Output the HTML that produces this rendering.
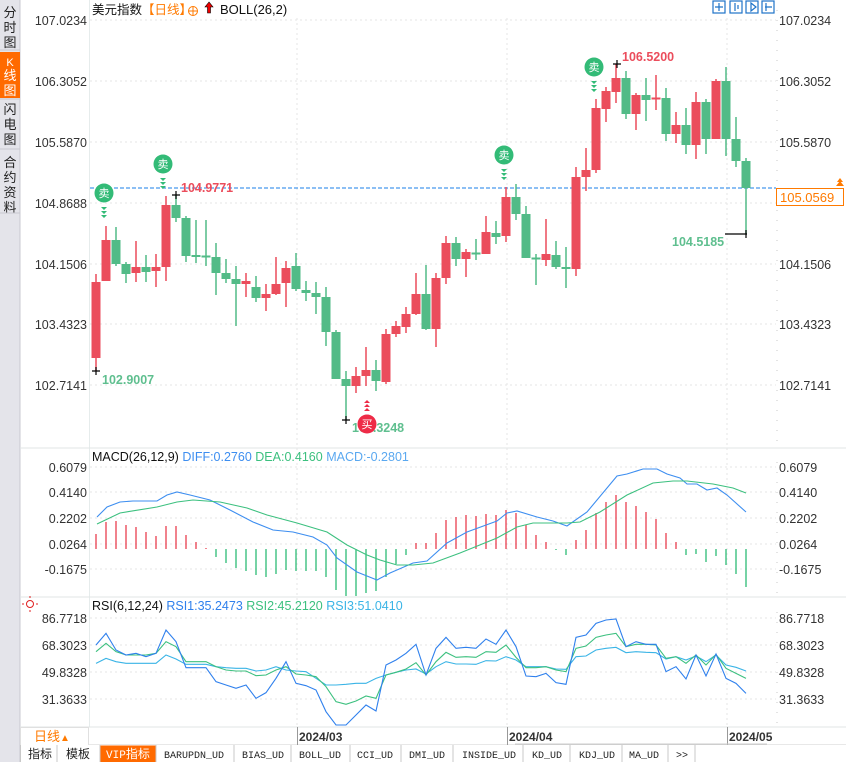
<!DOCTYPE html>
<html><head><meta charset="utf-8"><style>
body{margin:0;width:846px;height:762px;overflow:hidden;background:#fff;font-family:"Liberation Sans","Noto Sans CJK SC",sans-serif;}
svg{position:absolute;left:0;top:0}
</style></head><body>
<svg width="846" height="762" viewBox="0 0 846 762" xmlns="http://www.w3.org/2000/svg" font-family="Liberation Sans, Noto Sans CJK SC, sans-serif">
<rect x="0" y="0" width="20" height="762" fill="#e4e4ea"/>
<line x1="20" y1="0" x2="20" y2="762" stroke="#c8c8d0"/>
<rect x="0" y="52" width="20" height="46" fill="#ff6a00"/>
<g font-size="13" fill="#222" text-anchor="middle">
<text x="10" y="17">分</text><text x="10" y="32">时</text><text x="10" y="47">图</text>
<text x="10" y="66" fill="#fff" font-size="11">K</text><text x="10" y="80" fill="#fff">线</text><text x="10" y="95" fill="#fff">图</text>
<text x="10" y="114">闪</text><text x="10" y="129">电</text><text x="10" y="144">图</text>
<text x="10" y="167">合</text><text x="10" y="182">约</text><text x="10" y="197">资</text><text x="10" y="212">料</text>
</g>
<line x1="0" y1="50" x2="20" y2="50" stroke="#c8c8d0"/><line x1="0" y1="99" x2="20" y2="99" stroke="#c8c8d0"/><line x1="0" y1="149" x2="20" y2="149" stroke="#c8c8d0"/><line x1="0" y1="213" x2="20" y2="213" stroke="#c8c8d0"/>
<line x1="89.5" y1="0" x2="89.5" y2="727" stroke="#e6ecec"/>
<line x1="20" y1="448" x2="846" y2="448" stroke="#e0e6e6"/>
<line x1="20" y1="597" x2="846" y2="597" stroke="#e0e6e6"/>
<line x1="20" y1="727" x2="846" y2="727" stroke="#e0e6e6"/>
<line x1="20" y1="745" x2="846" y2="745" stroke="#d0d0d0"/>
<g stroke="#c8c8c8" stroke-dasharray="1,9"><line x1="777" y1="10" x2="777" y2="445"/><line x1="777" y1="462" x2="777" y2="595"/><line x1="777" y1="612" x2="777" y2="725"/></g>
<g stroke="#e6e6e6" stroke-dasharray="2,3">
<line x1="90" y1="20" x2="776" y2="20"/><line x1="90" y1="81" x2="776" y2="81"/><line x1="90" y1="142" x2="776" y2="142"/><line x1="90" y1="203" x2="776" y2="203"/><line x1="90" y1="264" x2="776" y2="264"/><line x1="90" y1="324" x2="776" y2="324"/><line x1="90" y1="385" x2="776" y2="385"/>
<line x1="90" y1="467" x2="776" y2="467"/><line x1="90" y1="492" x2="776" y2="492"/><line x1="90" y1="518" x2="776" y2="518"/><line x1="90" y1="544" x2="776" y2="544"/><line x1="90" y1="569" x2="776" y2="569"/>
<line x1="90" y1="618" x2="776" y2="618"/><line x1="90" y1="645" x2="776" y2="645"/><line x1="90" y1="672" x2="776" y2="672"/><line x1="90" y1="699" x2="776" y2="699"/>
<line x1="297" y1="18" x2="297" y2="727"/><line x1="507" y1="18" x2="507" y2="727"/><line x1="727" y1="18" x2="727" y2="727"/>
</g>
<g font-size="12.5" fill="#333">
<text x="779" y="25">107.0234</text><text x="779" y="86">106.3052</text><text x="779" y="147">105.5870</text><text x="779" y="269">104.1506</text><text x="779" y="329">103.4323</text><text x="779" y="390">102.7141</text>
<text x="779" y="472">0.6079</text><text x="779" y="497">0.4140</text><text x="779" y="523">0.2202</text><text x="779" y="549">0.0264</text><text x="779" y="574">-0.1675</text>
<text x="779" y="623">86.7718</text><text x="779" y="650">68.3023</text><text x="779" y="677">49.8328</text><text x="779" y="704">31.3633</text>
</g>
<g font-size="12.5" fill="#333" text-anchor="end">
<text x="87" y="25">107.0234</text><text x="87" y="86">106.3052</text><text x="87" y="147">105.5870</text><text x="87" y="208">104.8688</text><text x="87" y="269">104.1506</text><text x="87" y="329">103.4323</text><text x="87" y="390">102.7141</text>
<text x="87" y="472">0.6079</text><text x="87" y="497">0.4140</text><text x="87" y="523">0.2202</text><text x="87" y="549">0.0264</text><text x="87" y="574">-0.1675</text>
<text x="87" y="623">86.7718</text><text x="87" y="650">68.3023</text><text x="87" y="677">49.8328</text><text x="87" y="704">31.3633</text>
</g>
<text x="92" y="14" font-size="12.5" fill="#111">美元指数<tspan fill="#ff7a00">【日线】</tspan></text>
<circle cx="193" cy="11" r="4.5" fill="none" stroke="#ff7a00"/><path d="M188.5 11h9M193 6.5v9" stroke="#ff7a00"/>
<path d="M209 2l-4 5h2.5v6h3v-6h2.5z" fill="#e00" stroke="#000" stroke-width="0.6"/>
<text x="220" y="14" font-size="13" fill="#111">BOLL(26,2)</text>
<g fill="none" stroke="#1e73c8" stroke-width="1.2">
<rect x="713" y="1" width="12" height="12"/><rect x="730" y="1" width="12" height="12"/><rect x="746" y="1" width="12" height="12"/><rect x="762" y="1" width="12" height="12"/>
<path d="M719 3v8M715 7h8M735 3v8M738 5v4M751 3v8l5-4zM765 7h7M766 3v8"/>
</g>
<line x1="90" y1="188" x2="776" y2="188" stroke="#1a7fe8" stroke-dasharray="4,2"/>
<rect x="776.5" y="188.5" width="67" height="17" fill="#fff" stroke="#ff7a00"/>
<text x="780" y="202" font-size="13" fill="#ff7a00">105.0569</text>
<path d="M836 186l4-5 4 5zM837 182l3-4 3 4z" fill="#ff7a00"/>
<g fill="none" stroke="#eb4d5c" stroke-width="1.5"><path d="M96 274V371 M106 226V281 M136 241V282 M156 254V287 M166 196V281 M246 273V297 M266 284V311 M276 257V295 M286 261V307 M356 367V393 M366 347V386 M386 329V384 M396 321V337 M406 307V333 M416 273V315 M436 273V347 M446 236V284 M466 249V277 M486 216V254 M506 187V242 M546 219V266 M576 167V276 M586 148V191 M596 99V173 M606 87V122 M616 64V103 M636 93V130 M656 75V110 M676 112V143 M696 92V159 M716 79V139"/></g>
<path fill="#eb4d5c" d="M91.5 282h9v76h-9z M101.5 240h9v41h-9z M131.5 267h9v6h-9z M151.5 267h9v4h-9z M161.5 205h9v62h-9z M241.5 281h9v3h-9z M261.5 294h9v4h-9z M271.5 284h9v10h-9z M281.5 268h9v15h-9z M351.5 376h9v10h-9z M361.5 370h9v6h-9z M381.5 334h9v48h-9z M391.5 326h9v8h-9z M401.5 314h9v13h-9z M411.5 294h9v20h-9z M431.5 278h9v51h-9z M441.5 243h9v35h-9z M461.5 252h9v7h-9z M481.5 232h9v22h-9z M501.5 197h9v39h-9z M541.5 254h9v6h-9z M571.5 177h9v92h-9z M581.5 170h9v7h-9z M591.5 108h9v62h-9z M601.5 91h9v18h-9z M611.5 78h9v14h-9z M631.5 95h9v19h-9z M651.5 97.5h9v2h-9z M671.5 125h9v9h-9z M691.5 102h9v43h-9z M711.5 81h9v58h-9z"/>
<g fill="none" stroke="#52bb87" stroke-width="1.5"><path d="M116 227V266 M126 262V283 M146 255V282 M176 195V222 M186 216V262 M196 220V263 M206 220V266 M216 243V295 M226 259V283 M236 266V326 M256 276V302 M296 253V291 M306 281V301 M316 282V314 M326 287V346 M336 330V379 M346 371V420 M376 360V391 M426 265V330 M456 237V266 M476 239V260 M496 221V244 M516 184V220 M526 206V258 M536 254V285 M556 241V269 M566 247V288 M626 71V119 M646 78V121 M666 88V141 M686 108V154 M706 99V154 M726 67V156 M736 117V167 M746 158V234"/></g>
<path fill="#52bb87" d="M111.5 240h9v24h-9z M121.5 264h9v10h-9z M141.5 267h9v5h-9z M171.5 205h9v13h-9z M181.5 218h9v38h-9z M191.5 255h9v2h-9z M201.5 255.5h9v2h-9z M211.5 257h9v16h-9z M221.5 273h9v6h-9z M231.5 279h9v5h-9z M251.5 287h9v11h-9z M291.5 266h9v23h-9z M301.5 290h9v3h-9z M311.5 293h9v4h-9z M321.5 297h9v35h-9z M331.5 332h9v47h-9z M341.5 379h9v7h-9z M371.5 370h9v11h-9z M421.5 294h9v35h-9z M451.5 243h9v16h-9z M471.5 252.5h9v2h-9z M491.5 233h9v4h-9z M511.5 197h9v17h-9z M521.5 214h9v44h-9z M531.5 257.5h9v2h-9z M551.5 255h9v12h-9z M561.5 267h9v2h-9z M621.5 78h9v36h-9z M641.5 95h9v5h-9z M661.5 98h9v36h-9z M681.5 125h9v20h-9z M701.5 102h9v37h-9z M721.5 81h9v58h-9z M731.5 139h9v22h-9z M741.5 161h9v27h-9z"/>
<g stroke="#000" stroke-width="1.2"><path d="M172 195h8M176 191v8M92 371h8M96 367v8M342 420h8M346 416v8M613 64h8M617 60v8M725 234h22M746 230v8"/></g>
<g font-size="12.5" font-weight="bold">
<text x="181" y="192" fill="#eb4d5c">104.9771</text>
<text x="622" y="61" fill="#eb4d5c">106.5200</text>
<text x="102" y="384" fill="#5fbf8f">102.9007</text>
<text x="352" y="432" fill="#5fbf8f">102.3248</text>
<text x="672" y="246" fill="#5fbf8f">104.5185</text>
</g>
<g font-size="11" fill="#fff" text-anchor="middle">
<circle cx="104" cy="193" r="9.5" fill="#33bb77"/><text x="104" y="197">卖</text>
<circle cx="163" cy="164" r="9.5" fill="#33bb77"/><text x="163" y="168">卖</text>
<circle cx="504" cy="155" r="9.5" fill="#33bb77"/><text x="504" y="159">卖</text>
<circle cx="594" cy="67" r="9.5" fill="#33bb77"/><text x="594" y="71">卖</text>
<circle cx="367" cy="424" r="9.5" fill="#ee2b47"/><text x="367" y="428">买</text>
</g>
<g fill="#33bb77"><path d="M101 207h6l-3 3zM101 211h6l-3 3zM101 215h6l-3 3zM160 178h6l-3 3zM160 182h6l-3 3zM160 186h6l-3 3zM501 169h6l-3 3zM501 173h6l-3 3zM501 177h6l-3 3zM591 81h6l-3 3zM591 85h6l-3 3zM591 89h6l-3 3z"/></g>
<g fill="#ee2b47"><path d="M364 403h6l-3-3zM364 407h6l-3-3zM364 411h6l-3-3z"/></g>
<text x="92" y="461" font-size="12.5" fill="#111">MACD(26,12,9) <tspan fill="#3d8ef0">DIFF:0.2760</tspan>  <tspan fill="#3cc07f">DEA:0.4160</tspan>  <tspan fill="#5aa8f0">MACD:-0.2801</tspan></text>
<path stroke="#eb4d5c" stroke-width="1.4" d="M96 549V534 M106 549V522 M116 549V521 M126 549V525 M136 549V527 M146 549V532 M156 549V536 M166 549V526 M176 549V526 M186 549V535 M196 549V542 M206 549V548 M416 549V543 M426 549V543 M436 549V533 M446 549V520 M456 549V517 M466 549V515 M476 549V516 M486 549V514 M496 549V515 M506 549V510 M516 549V513 M526 549V525 M536 549V535 M546 549V542 M576 549V540 M586 549V530 M596 549V513 M606 549V502 M616 549V495 M626 549V502 M636 549V506 M646 549V512 M656 549V519 M666 549V533 M676 549V542"/>
<path stroke="#3cc07f" stroke-width="1.4" d="M216 549V557 M226 549V563 M236 549V568 M246 549V571 M256 549V575 M266 549V577 M276 549V574 M286 549V570 M296 549V571 M306 549V571 M316 549V571 M326 549V577 M336 549V590 M346 549V596 M356 549V596 M366 549V593 M376 549V591 M386 549V577 M396 549V564 M406 549V555 M556 549V550 M566 549V555 M686 549V555 M696 549V554 M706 549V562 M716 549V556 M726 549V565 M736 549V574 M746 549V587"/>
<polyline fill="none" stroke="#3d8ef0" stroke-width="1.1" points="97,517 107,507 120,502 133,501 157,501 167,495 177,492 190,495 210,500 230,510 253,522 273,530 293,532 313,537 327,545 337,558 357,572 377,580 390,573 413,563 427,561 447,543 467,532 497,521 507,513 517,511 537,517 553,521 567,526 587,512 617,476 627,474 643,469 657,469 667,474 680,478 687,484 697,484 707,490 717,488 727,495 746,512"/>
<polyline fill="none" stroke="#3cc07f" stroke-width="1.1" points="97,524 120,513 157,507 177,502 193,500 220,502 247,508 267,515 297,523 327,532 347,545 367,555 380,560 397,565 413,565 433,563 460,553 497,538 517,527 533,523 567,523 580,522 600,512 627,495 653,483 673,481 687,481 713,484 733,488 746,493"/>
<circle cx="30" cy="604" r="3.5" fill="none" stroke="#e02020"/><path d="M24 604h-2M38 604h-2M30 598v-2M30 612v-2" stroke="#e02020"/>
<text x="92" y="610" font-size="12.5" fill="#111">RSI(6,12,24) <tspan fill="#2f80ed">RSI1:35.2473</tspan>  <tspan fill="#3cc07f">RSI2:45.2120</tspan>  <tspan fill="#3ab4e6">RSI3:51.0410</tspan></text>
<g transform="translate(96,595) scale(10,0.33333)" fill="none">
<polyline vector-effect="non-scaling-stroke" stroke="#3ab4e6" stroke-width="1.1" points="0,205 1,190 2,200 3,205 4,205 5,205 6,205 7,180 8,192 9,208 10,208 11,208 12,215 13,218 14,220 15,220 16,228 17,225 18,215 19,225 20,228 21,230 22,250 23,270 24,270 25,268 26,265 27,265 28,250 29,240 30,232 31,225 32,222 33,237 34,215 35,200 36,207 37,207 38,208 39,197 40,198 41,185 42,195 43,215 44,215 45,215 46,222 47,223 48,185 49,183 50,165 51,160 52,157 53,173 54,170 55,172 56,173 57,192 58,185 59,195 60,183 61,200 62,180 63,210 64,217 65,228"/>
<polyline vector-effect="non-scaling-stroke" stroke="#3cc07f" stroke-width="1.1" points="0,170 1,145 2,170 3,180 4,180 5,180 6,175 7,140 8,155 9,200 10,200 11,200 12,215 13,225 14,228 15,228 16,242 17,240 18,225 19,215 20,237 21,240 22,245 23,275 24,320 25,328 26,318 27,303 28,310 29,240 30,232 31,222 32,203 33,240 34,200 35,172 36,187 37,185 38,187 39,170 40,172 41,150 42,187 43,218 44,218 45,215 46,225 47,230 48,160 49,153 50,127 51,120 52,115 53,155 54,148 55,148 56,150 57,190 58,185 59,205 60,180 61,210 62,178 63,220 64,235 65,250"/>
<polyline vector-effect="non-scaling-stroke" stroke="#2f80ed" stroke-width="1.1" points="0,150 1,115 2,165 3,180 4,175 5,185 6,175 7,105 8,140 9,218 10,218 11,218 12,260 13,270 14,280 15,270 16,310 17,293 18,250 19,200 20,265 21,272 22,285 23,350 24,390 25,390 26,360 27,330 28,348 29,210 30,195 31,175 32,148 33,240 34,160 35,127 36,160 37,157 38,160 39,132 40,148 41,105 42,155 43,243 44,245 45,235 46,263 47,268 48,127 49,120 50,85 51,75 52,72 53,155 54,140 55,148 56,148 57,230 58,215 59,252 60,180 61,243 62,177 63,250 64,265 65,295"/>
</g>
<rect x="20.5" y="727.5" width="68" height="18" fill="#fff" stroke="#e0e0e0"/>
<text x="34" y="741" font-size="13" fill="#ff7a00">日线<tspan font-size="10">▲</tspan></text>
<g stroke="#999"><line x1="297.5" y1="727" x2="297.5" y2="745"/><line x1="507.5" y1="727" x2="507.5" y2="745"/><line x1="727.5" y1="727" x2="727.5" y2="745"/></g>
<line x1="515" y1="744" x2="767" y2="744" stroke="#ccc"/>
<g font-size="12" font-weight="bold" fill="#333"><text x="299" y="741">2024/03</text><text x="509" y="741">2024/04</text><text x="729" y="741">2024/05</text></g>
<rect x="20" y="745" width="826" height="17" fill="#fff"/>
<rect x="100" y="745.5" width="56" height="16.5" fill="#ff6a00"/>
<g stroke="#c8c8c8"><path d="M20.5 745v17M57 745v17M100 745v17M156 745v17M234 745v17M291 745v17M350 745v17M401 745v17M453 745v17M523 745v17M570 745v17M622 745v17M668 745v17M695 745v17"/></g>
<g font-size="11" fill="#222" font-family="Liberation Mono, Noto Sans CJK SC, monospace">
<text x="28" y="758" font-family="Noto Sans CJK SC, sans-serif" font-size="12">指标</text>
<text x="66" y="758" font-family="Noto Sans CJK SC, sans-serif" font-size="12">模板</text>
<text x="106" y="758" fill="#fff" font-size="11">VIP<tspan font-family="Noto Sans CJK SC, sans-serif" font-size="12">指标</tspan></text>
<text x="164" y="758" font-size="10">BARUPDN_UD</text>
<text x="242" y="758" font-size="10">BIAS_UD</text>
<text x="299" y="758" font-size="10">BOLL_UD</text>
<text x="357" y="758" font-size="10">CCI_UD</text>
<text x="409" y="758" font-size="10">DMI_UD</text>
<text x="462" y="758" font-size="10">INSIDE_UD</text>
<text x="532" y="758" font-size="10">KD_UD</text>
<text x="579" y="758" font-size="10">KDJ_UD</text>
<text x="629" y="758" font-size="10">MA_UD</text>
<text x="676" y="758" font-size="10">&gt;&gt;</text>
</g>
</svg>
</body></html>
